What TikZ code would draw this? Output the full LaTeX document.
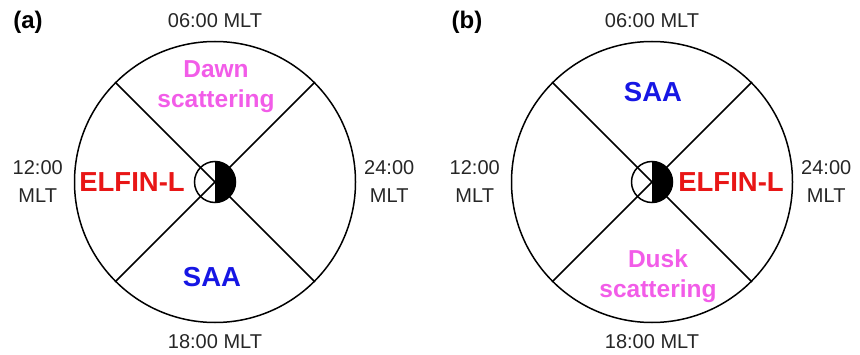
\documentclass[tikz,border=0pt]{standalone}
\usepackage{fontspec}
\setmainfont{Liberation Sans}
\usetikzlibrary{positioning}
\definecolor{elfred}{RGB}{232,22,22}
\definecolor{saablue}{RGB}{22,22,228}
\definecolor{scatpink}{RGB}{242,92,232}
\tikzstyle{dial} = [circle, draw, line width=1.5pt, minimum size=281pt, inner sep=0pt]
\tikzstyle{sector} = [line width=1.5pt]
\tikzstyle{sun} = [circle, draw, line width=1.5pt, minimum size=41pt, inner sep=0pt,
  path picture={\fill (path picture bounding box.north) rectangle (path picture bounding box.south east);}]
\tikzstyle{mlt} = [font=\fontsize{20}{28}\selectfont, align=center, text=black!85, inner sep=0pt]
\tikzstyle{region} = [font=\bfseries\fontsize{27.5}{30}\selectfont, align=center, inner sep=0pt]
\tikzstyle{scat} = [font=\bfseries\fontsize{24.5}{30}\selectfont, align=center, inner sep=0pt, text=scatpink]
\tikzstyle{panel} = [font=\bfseries\fontsize{24}{28}\selectfont, inner sep=0pt]

\begin{document}
\begin{tikzpicture}[x=1pt, y=1pt]
\useasboundingbox (0,0) rectangle (860,354);
% Panel (a)
\node (dialA) [dial] at (215,172) {};
\draw[sector] (dialA.135) -- (dialA.-45);
\draw[sector] (dialA.45) -- (dialA.-135);
\node (sunA) [sun] at (dialA.center) {};
\node (labA) [panel] at (28,332) {(a)};
\node (dawnA) [mlt] at ([yshift=20pt]dialA.north) {06:00 MLT};
\node (duskA) [mlt] at ([yshift=-18pt]dialA.south) {18:00 MLT};
\node (noonA) [mlt] at ([xshift=-36pt]dialA.west) {12:00\\MLT};
\node (midA) [mlt] at ([xshift=33pt]dialA.east) {24:00\\MLT};
\node (scatA) [scat] at ([shift={(1,95)}]dialA.center) {Dawn\\scattering};
\node (elfA) [region, text=elfred] at ([xshift=-83pt]dialA.center) {ELFIN-L};
\node (saaA) [region, text=saablue] at ([shift={(-3,-95)}]dialA.center) {SAA};

% Panel (b)
\node (dialB) [dial] at (652,172) {};
\draw[sector] (dialB.135) -- (dialB.-45);
\draw[sector] (dialB.45) -- (dialB.-135);
\node (sunB) [sun] at (dialB.center) {};
\node (labB) [panel] at (467,332) {(b)};
\node (dawnB) [mlt] at ([yshift=20pt]dialB.north) {06:00 MLT};
\node (duskB) [mlt] at ([yshift=-18pt]dialB.south) {18:00 MLT};
\node (noonB) [mlt] at ([xshift=-36pt]dialB.west) {12:00\\MLT};
\node (midB) [mlt] at ([xshift=33pt]dialB.east) {24:00\\MLT};
\node (saaB) [region, text=saablue] at ([shift={(1,90)}]dialB.center) {SAA};
\node (elfB) [region, text=elfred] at ([xshift=79pt]dialB.center) {ELFIN-L};
\node (scatB) [scat] at ([shift={(6,-94)}]dialB.center) {Dusk\\scattering};
\end{tikzpicture}
\end{document}
